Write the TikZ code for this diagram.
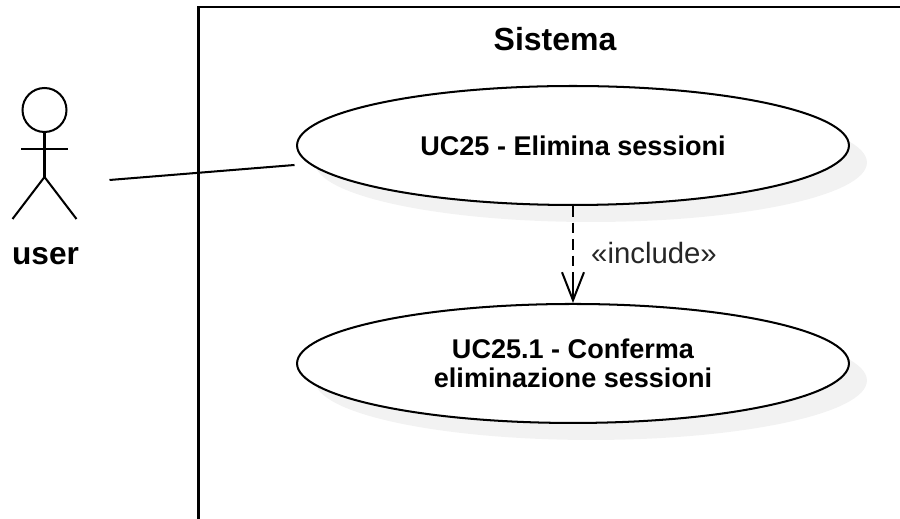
\documentclass[tikz,border=0pt]{standalone}
\usepackage{fontspec}
\setmainfont{Liberation Sans}
\usetikzlibrary{arrows.meta,positioning,shadows,shapes.geometric}
\definecolor{shadowgray}{HTML}{F2F2F2}
\tikzset{every node/.style={align=center}}
\tikzset{usecase/.style={ellipse,draw,fill=white,line width=1.15pt,inner sep=0pt,minimum width=11.04cm,minimum height=2.38cm,font=\bfseries\fontsize{15.4}{16.4}\selectfont,drop shadow={shadow xshift=0.36cm,shadow yshift=-0.34cm,fill=shadowgray,opacity=1}}}

\begin{document}
\begin{tikzpicture}[x=0.02cm,y=-0.02cm,line width=1.15pt,node distance=1.94cm]
\useasboundingbox (0,0) rectangle (900,519);

% system frame
\coordinate (FR) at (900,7);
\coordinate (FC) at (198.5,7);
\coordinate (FB) at (198.5,519);
\draw (FR) -- (FC) -- (FB);
\node[font=\bfseries\fontsize{18.2}{18.2}\selectfont] (Sys) at (555,39) {Sistema};

% use cases
\node[usecase] (UCa) at (573,145.5) {UC25 - Elimina sessioni};
\node[usecase,below=of UCa] (UCb) {UC25.1 - Conferma\\eliminazione sessioni};

% actor
\node[circle,draw,line width=1.15pt,minimum size=0.88cm,inner sep=0pt] (Head) at (44.5,110) {};
\coordinate (Hip) at (44.5,177);
\coordinate (ArmL) at (21,149);
\coordinate (ArmR) at (67.5,149);
\coordinate (LegL) at (12.5,219);
\coordinate (LegR) at (76.5,219);
\draw (Head) -- (Hip);
\draw (ArmL) -- (ArmR);
\draw (LegL) -- (Hip) -- (LegR);
\node[font=\bfseries\fontsize{18}{18}\selectfont] (User) at (45.5,256) {user};

% links
\coordinate (LinkA) at (109.5,180);
\coordinate (LinkB) at (294.5,165);
\draw (LinkA) -- (LinkB);
\draw[dashed,dash pattern=on 6pt off 3.4pt] (UCa) -- (UCb);
\draw[-{Straight Barb[length=0.56cm,width=0.44cm,line width=1.15pt]}] (573,276) -- (UCb.north);
\node[font=\fontsize{16.7}{16.7}\selectfont,text=black!85] (Inc) at (654,253) {«include»};
\end{tikzpicture}
\end{document}
